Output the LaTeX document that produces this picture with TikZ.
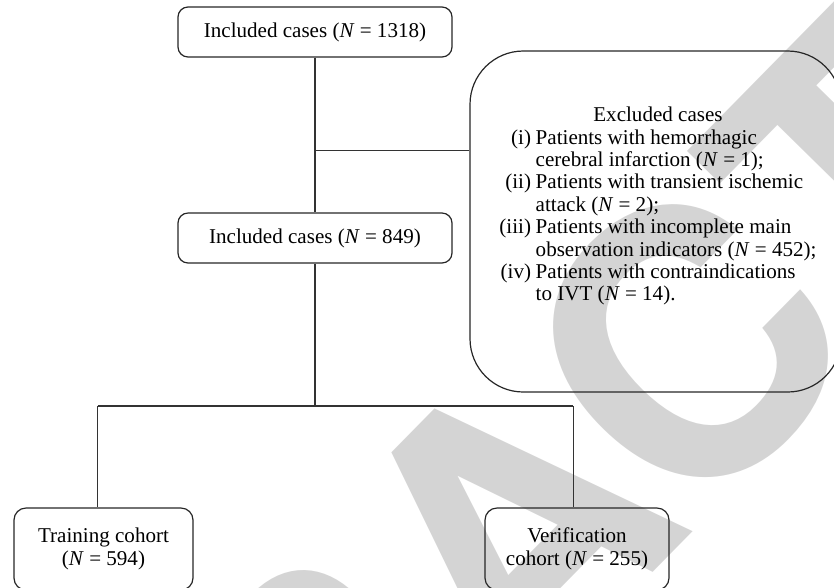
\documentclass[tikz,border=0pt]{standalone}
\usepackage{fontspec}
\setmainfont{Liberation Serif}
\newfontfamily\wmfont{TeX Gyre Heros}
\usepackage{array}
\begin{document}
\begin{tikzpicture}[x=0.75pt,y=-0.75pt,
  lbl/.style={font=\fontsize{15.8}{17.6}\selectfont},
  casebox/.style={draw=black!85, line width=0.9pt, rounded corners=7.5pt, lbl, align=center, inner sep=0pt},
  link/.style={draw=black!80, line width=0.9pt},
  wmark/.style={text=black!17, inner sep=0pt, font=\wmfont\bfseries\fontsize{278}{278}\selectfont}
]
\useasboundingbox (0,0) rectangle (834,587);
\clip (0,0) rectangle (834,587);
% watermark
\node[wmark, rotate=45.5] (wm) at (503,532) {RETRACTED};
% boxes
\node[casebox, minimum width=205.5pt, minimum height=37.5pt] (top) at (315,32) {Included cases (\textit{N} = 1318)};
\node[casebox, minimum width=205.5pt, minimum height=37.5pt] (mid) at (315,238) {Included cases (\textit{N} = 849)};
\node[draw=black!85, line width=0.9pt, rounded corners=40pt, minimum width=278.25pt, minimum height=255.75pt, inner sep=0pt] (excl) at (655.5,221.5) {};
\node[anchor=base, inner sep=0pt, font=\fontsize{15.8}{16.8}\selectfont] (exctxt) at (658,121.7) {%
\begin{tabular}[t]{@{}r@{\hspace{3.5pt}}l@{}}
\multicolumn{2}{c}{Excluded cases}\\
(i) & Patients with hemorrhagic\\
    & cerebral infarction (\textit{N} = 1);\\
(ii) & Patients with transient ischemic\\
    & attack (\textit{N} = 2);\\
(iii) & Patients with incomplete main\\
    & observation indicators (\textit{N} = 452);\\
(iv) & Patients with contraindications\\
    & to IVT (\textit{N} = 14).
\end{tabular}};
\node[casebox, rounded corners=9pt, minimum width=134.25pt, minimum height=61.5pt] (train) at (103.5,549) {Training cohort\\(\textit{N} = 594)};
\node[casebox, rounded corners=9pt, minimum width=138pt, minimum height=61.5pt] (verif) at (577,549) {Verification\\cohort (\textit{N} = 255)};
% junctions
\coordinate (jx) at (315,150.7);
\coordinate (jb) at (315,406);
\coordinate (jl) at (97.7,406);
\coordinate (jr) at (573.3,406);
% connectors
\draw[link] (top.south) -- (mid.north);
\draw[link] (jx) -- (jx -| excl.west);
\draw[link] (mid.south) -- (jb);
\draw[link] (jl) -- (jr);
\draw[link] (jl) -- (jl |- train.north);
\draw[link] (jr) -- (jr |- verif.north);
\end{tikzpicture}
\end{document}
